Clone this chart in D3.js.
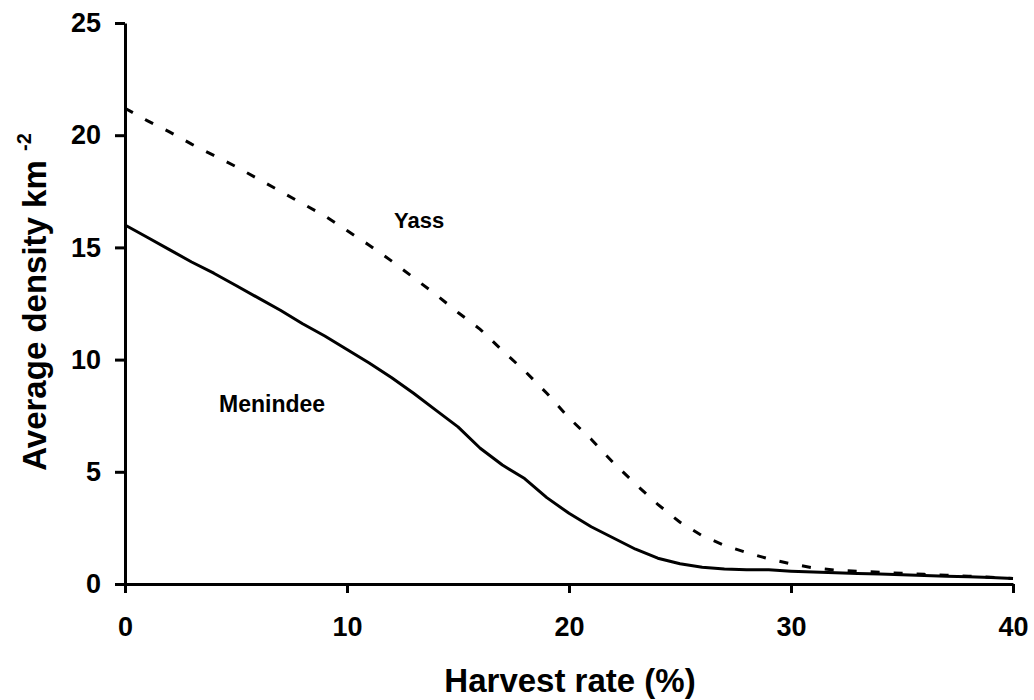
<!DOCTYPE html>
<html>
<head>
<meta charset="utf-8">
<script src="https://cdn.jsdelivr.net/npm/d3@7/dist/d3.min.js"></script>
<style>
  html, body { margin: 0; padding: 0; background: #fff; }
  svg { display: block; font-family: "Liberation Sans", Arial, Helvetica, sans-serif; font-weight: bold; }
  .axis path, .axis line { stroke: #000; stroke-width: 3; }
  .axis text { font-size: 27px; font-weight: bold; fill: #000; font-family: "Liberation Sans", Arial, sans-serif; }
</style>
</head>
<body>
<svg id="chart" width="1034" height="700"></svg>
<script>
// Harvest rate (%) sampled at whole percentages
const harvestRate = d3.range(0, 41);

// Average density (animals per km²) under each harvest rate
const yassDensity = [
  21.2, 20.65, 20.15, 19.6, 19.1, 18.6, 18.05, 17.5, 16.95, 16.4,
  15.75, 15.1, 14.4, 13.65, 12.9, 12.1, 11.35, 10.4, 9.5, 8.5,
  7.4, 6.45, 5.4, 4.45, 3.55, 2.75, 2.15, 1.72, 1.4, 1.12,
  0.9, 0.72, 0.62, 0.57, 0.52, 0.48, 0.43, 0.39, 0.35, 0.3,
  0.25
];
const menindeeDensity = [
  16.0, 15.45, 14.9, 14.35, 13.85, 13.3, 12.75, 12.2, 11.6, 11.05,
  10.45, 9.85, 9.2, 8.5, 7.75, 7.0, 6.05, 5.3, 4.7, 3.85,
  3.15, 2.55, 2.05, 1.55, 1.15, 0.9, 0.75, 0.67, 0.64, 0.63,
  0.57, 0.53, 0.5, 0.47, 0.45, 0.41, 0.38, 0.35, 0.32, 0.29,
  0.25
];

const xTicks = [0, 10, 20, 30, 40];
const yTicks = [0, 5, 10, 15, 20, 25];

const svg = d3.select("#chart");
const plot = { left: 125, right: 1013, top: 23, bottom: 584 };

const x = d3.scaleLinear().domain([0, 40]).range([plot.left, plot.right]);
const y = d3.scaleLinear().domain([0, 25]).range([plot.bottom, plot.top]);

// Axes
svg.append("g")
  .attr("class", "axis")
  .attr("transform", `translate(0,${plot.bottom})`)
  .call(d3.axisBottom(x).tickValues(xTicks).tickSize(9).tickSizeOuter(0).tickPadding(24));

svg.append("g")
  .attr("class", "axis")
  .attr("transform", `translate(${plot.left},0)`)
  .call(d3.axisLeft(y).tickValues(yTicks).tickSize(10).tickSizeOuter(0).tickPadding(14));

// Series
const line = d3.line()
  .x((d, i) => x(harvestRate[i]))
  .y(d => y(d));

svg.append("path")
  .datum(yassDensity)
  .attr("d", line)
  .attr("fill", "none")
  .attr("stroke", "#000")
  .attr("stroke-width", 3)
  .attr("stroke-dasharray", "9,14");

svg.append("path")
  .datum(menindeeDensity)
  .attr("d", line)
  .attr("fill", "none")
  .attr("stroke", "#000")
  .attr("stroke-width", 3)
  .attr("stroke-linejoin", "round");

// Series labels
svg.append("text")
  .attr("x", 394).attr("y", 228)
  .attr("font-size", 22)
  .text("Yass");

svg.append("text")
  .attr("x", 219).attr("y", 412)
  .attr("font-size", 23)
  .text("Menindee");

// Axis titles
svg.append("text")
  .attr("x", (plot.left + plot.right) / 2 + 1).attr("y", 692)
  .attr("text-anchor", "middle")
  .attr("font-size", 33)
  .text("Harvest rate (%)");

const yTitle = svg.append("text")
  .attr("transform", "translate(46,302) rotate(-90)")
  .attr("text-anchor", "middle")
  .attr("font-size", 33);
yTitle.append("tspan").text("Average density km ");
yTitle.append("tspan")
  .attr("font-size", 20)
  .attr("dy", -15)
  .text("-2");
</script>
</body>
</html>
